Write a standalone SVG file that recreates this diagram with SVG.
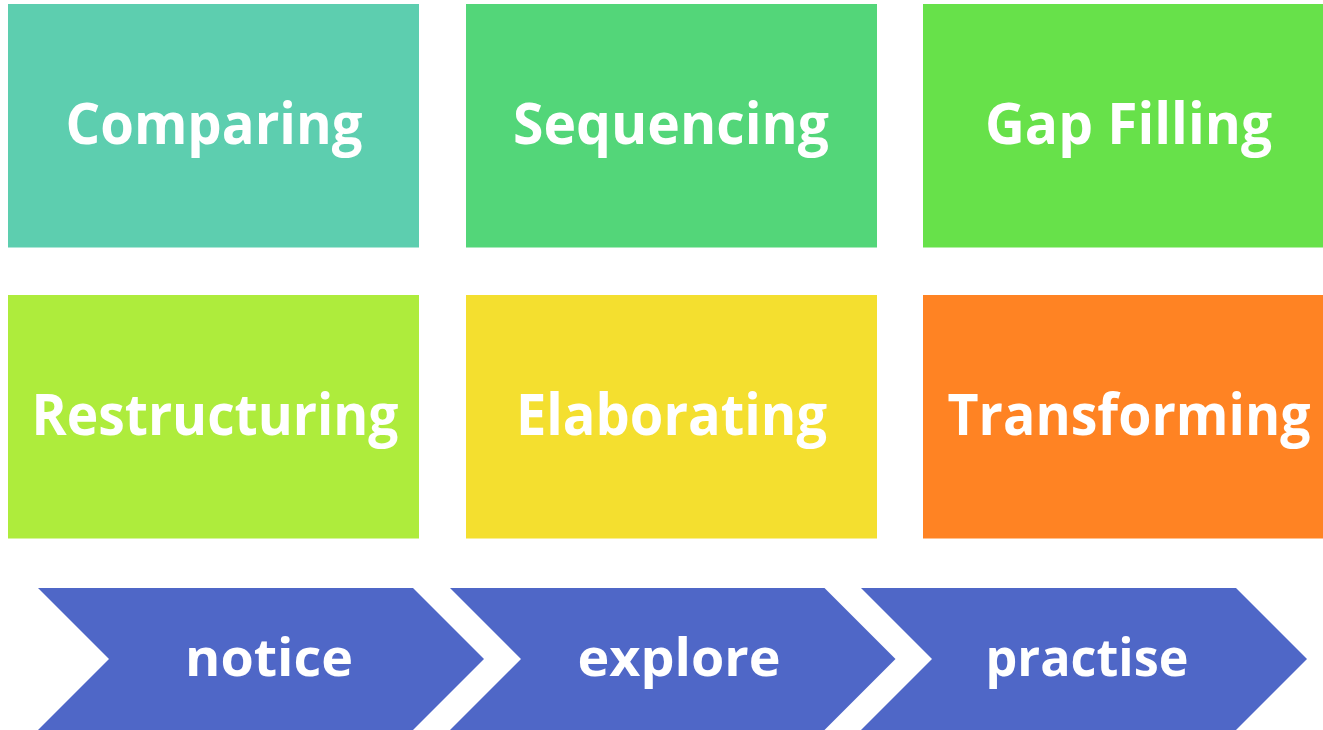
<svg xmlns="http://www.w3.org/2000/svg" width="1323" height="730" viewBox="0 0 1323 730">
  <style>
    .label { font-family: "Open Sans", "Liberation Sans", sans-serif; font-weight: 700; fill: #FFFFFF; text-anchor: middle; }
    .box { font-size: 58px; }
    .step { font-size: 52px; }
    .chev { fill: #4F67C7; }
  </style>
  <rect width="1323" height="730" fill="#FFFFFF"/>

  <!-- activity tiles, row 1 -->
  <g id="node-comparing">
    <rect x="8" y="4" width="411" height="243.5" fill="#5DCEAF"/>
    <text class="label box" x="214" y="144" textLength="297" lengthAdjust="spacingAndGlyphs">Comparing</text>
  </g>
  <g id="node-sequencing">
    <rect x="466" y="4" width="411" height="243.5" fill="#53D679"/>
    <text class="label box" x="671" y="144" textLength="316" lengthAdjust="spacingAndGlyphs">Sequencing</text>
  </g>
  <g id="node-gap-filling">
    <rect x="923" y="4" width="400" height="243.5" fill="#67E14A"/>
    <text class="label box" x="1128.5" y="144" textLength="287" lengthAdjust="spacingAndGlyphs">Gap Filling</text>
  </g>

  <!-- activity tiles, row 2 -->
  <g id="node-restructuring">
    <rect x="8" y="295" width="411" height="243.5" fill="#AEEC3C"/>
    <text class="label box" x="215" y="435" textLength="367" lengthAdjust="spacingAndGlyphs">Restructuring</text>
  </g>
  <g id="node-elaborating">
    <rect x="466" y="295" width="411" height="243.5" fill="#F4DF2F"/>
    <text class="label box" x="671.5" y="435" textLength="311" lengthAdjust="spacingAndGlyphs">Elaborating</text>
  </g>
  <g id="node-transforming">
    <rect x="923" y="295" width="400" height="243.5" fill="#FF8323"/>
    <!-- condensed horizontally so the wide word stays inside the tile -->
    <text class="label box" x="0" y="0" transform="translate(1129 435) scale(0.88 1)" textLength="412.5" lengthAdjust="spacingAndGlyphs">Transforming</text>
  </g>

  <!-- process chevrons -->
  <g id="node-notice">
    <polygon class="chev" points="38,588 413,588 484,659 413,730 38,730 109,659"/>
    <text class="label step" x="269" y="676" textLength="168" lengthAdjust="spacingAndGlyphs">notice</text>
  </g>
  <g id="node-explore">
    <polygon class="chev" points="450,588 824.5,588 895.5,659 824.5,730 450,730 521,659"/>
    <text class="label step" x="679" y="676" textLength="203" lengthAdjust="spacingAndGlyphs">explore</text>
  </g>
  <g id="node-practise">
    <polygon class="chev" points="861,588 1236,588 1307,659 1236,730 861,730 932,659"/>
    <text class="label step" x="1087" y="676" textLength="203" lengthAdjust="spacingAndGlyphs">practise</text>
  </g>

  <g id="connectors"></g>
</svg>
